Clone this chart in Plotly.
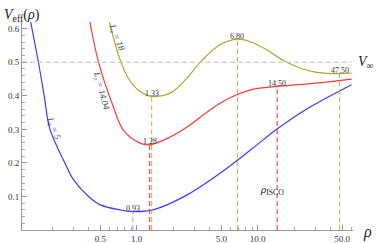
import numpy as np
import plotly.graph_objects as go

# ---- data ----
rho_L5 = [0.133, 0.154, 0.172, 0.192, 0.255, 0.30, 0.40, 0.50, 0.73, 0.93, 1.36, 2.59, 4.88, 9.2, 14.35, 24.7, 59.7]
V_L5   = [0.62, 0.50, 0.40, 0.30, 0.20, 0.15, 0.10, 0.075, 0.06, 0.055, 0.06, 0.104, 0.169, 0.245, 0.30, 0.358, 0.433]

rho_L1404 = [0.411, 0.48, 0.64, 0.776, 1.066, 1.28, 1.89, 2.59, 3.9, 4.88, 6.7, 9.2, 14.5, 30.7, 59.7]
V_L1404   = [0.62, 0.505, 0.368, 0.298, 0.259, 0.254, 0.277, 0.306, 0.354, 0.378, 0.403, 0.42, 0.428, 0.438, 0.45]

rho_L18 = [0.594, 0.73, 0.86, 1.04, 1.33, 1.89, 2.59, 3.45, 4.88, 6.8, 8.6, 11.9, 16.3, 22.4, 30.7, 47.5, 59.7]
V_L18   = [0.62, 0.507, 0.45, 0.416, 0.398, 0.408, 0.452, 0.505, 0.552, 0.569, 0.562, 0.537, 0.505, 0.483, 0.47, 0.466, 0.468]

curve_names = ["L<sub>z</sub> = 5", "L<sub>z</sub> = 14.04", "L<sub>z</sub> = 18"]

mark_rho = [0.93, 1.28, 1.33, 6.80, 14.50, 47.50]
mark_V   = [0.055, 0.254, 0.398, 0.569, 0.428, 0.466]
mark_txt = ["0.93", "1.28", "1.33", "6.80", "14.50", "47.50"]
mark_curve = [0, 1, 2, 2, 1, 2]

V_inf = 0.5

x_tickvals = [0.5, 1, 5, 10, 50]
x_ticktext = ["0.5", "1.0", "5.0", "10.0", "50.0"]
y_tickvals = [0.1, 0.2, 0.3, 0.4, 0.5, 0.6]
y_ticktext = ["0.1", "0.2", "0.3", "0.4", "0.5", "0.6"]

# ---- styling ----
curve_colors = ["#3a3aff", "#ff3a3a", "#a8a838"]
dash_colors = ["#a8a8ff", "#ff3a3a", "#b8b860"]
serif = "Liberation Serif, Times New Roman, serif"

xmin_log, xmax_log = -0.948, 1.788

fig = go.Figure()

for rho, V, c in zip([rho_L5, rho_L1404, rho_L18], [V_L5, V_L1404, V_L18], curve_colors):
    fig.add_trace(go.Scatter(x=rho, y=V, mode="lines", line=dict(color=c, width=1.2, shape="spline", smoothing=1.0),
                             hoverinfo="skip", showlegend=False))

# V_inf dashed line
fig.add_trace(go.Scatter(x=[10 ** xmin_log, rho_L5[-1]], y=[V_inf, V_inf], mode="lines",
                         line=dict(color="#bdbdbd", width=1.2, dash="5px,3px"), hoverinfo="skip", showlegend=False))

# vertical dashed lines
for r, v, ci in zip(mark_rho, mark_V, mark_curve):
    fig.add_trace(go.Scatter(x=[r, r], y=[0, v], mode="lines",
                             line=dict(color=dash_colors[ci], width=1.1, dash="5px,3px"),
                             hoverinfo="skip", showlegend=False))

annotations = []
for r, v, t in zip(mark_rho, mark_V, mark_txt):
    annotations.append(dict(x=np.log10(r), y=v, text=t, showarrow=False, yanchor="middle", yshift=3,
                            font=dict(family=serif, size=8, color="#333")))

# curve labels
lab_pos = [(0.207, 0.304, 68), (0.507, 0.415, 75), (0.681, 0.573, 69)]
for (r, v, ang), name in zip(lab_pos, curve_names):
    annotations.append(dict(x=np.log10(r), y=v, text="<i>" + name + "</i>", showarrow=False, textangle=ang,
                            font=dict(family=serif, size=9, color="#444")))

annotations.append(dict(x=np.log10(13.2), y=0.119, text="<i>ρ</i><sub>ISCO</sub>", showarrow=False,
                        font=dict(family=serif, size=11, color="#222")))
annotations.append(dict(xref="paper", yref="y", x=1.0, y=V_inf, xanchor="left", xshift=3,
                        text="<i>V</i><sub>∞</sub>", showarrow=False,
                        font=dict(family=serif, size=14, color="#222")))
annotations.append(dict(xref="paper", yref="paper", x=1.0, y=0.0, xanchor="left", yanchor="top", xshift=8, yshift=9,
                        text="<i>ρ</i>", showarrow=False, font=dict(family=serif, size=16, color="#222")))
annotations.append(dict(xref="paper", yref="paper", x=0.0, y=1.0, xanchor="left", yanchor="bottom", xshift=-20, yshift=-4,
                        text="<i>V</i><sub>eff</sub>(<i>ρ</i>)", showarrow=False,
                        font=dict(family=serif, size=14, color="#222")))

x_minor = [0.2, 0.3, 0.4, 0.6, 0.7, 0.8, 0.9, 2, 3, 4, 6, 7, 8, 9, 20, 30, 40, 60]
y_minor = [round(0.02 * i, 2) for i in range(1, 31) if (i % 5) != 0]

fig.update_layout(
    width=378, height=243,
    margin=dict(l=22, r=25, t=22, b=13),
    paper_bgcolor="white", plot_bgcolor="white",
    annotations=annotations,
    xaxis=dict(type="log", range=[xmin_log, xmax_log], showgrid=False, zeroline=False,
               showline=True, linecolor="#999", linewidth=1,
               tickvals=x_tickvals, ticktext=x_ticktext, ticks="inside", ticklen=5, tickcolor="#999",
               tickfont=dict(family=serif, size=9, color="#333"),
               minor=dict(tickvals=x_minor, ticks="inside", ticklen=3, tickcolor="#aaa"),
               automargin=False),
    yaxis=dict(range=[0, 0.62], showgrid=False, zeroline=False,
               showline=True, linecolor="#999", linewidth=1,
               tickvals=y_tickvals, ticktext=y_ticktext, ticks="inside", ticklen=5, tickcolor="#999",
               tickfont=dict(family=serif, size=9, color="#333"),
               minor=dict(tickvals=y_minor, ticks="inside", ticklen=3, tickcolor="#aaa"),
               automargin=False),
)

# remove the default 8px page margin so the figure fills the window
fig.write_html("out.html", config={"displayModeBar": False},
               post_script="document.body.style.margin='0px';")
